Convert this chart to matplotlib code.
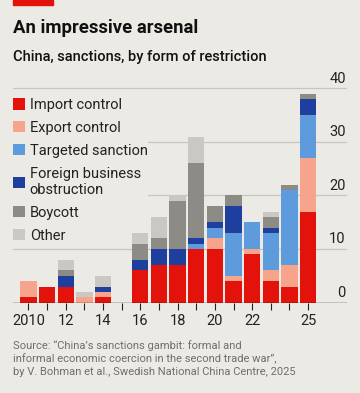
import numpy as np
import matplotlib
matplotlib.use('Agg')
import matplotlib.pyplot as plt
from matplotlib.patches import Rectangle

plt.rcParams['font.family'] = ['Roboto', 'DejaVu Sans']

BG = '#ebeae4'

years = np.arange(2010, 2026)
import_control = [1, 3, 3, 0, 1, 0, 6, 7, 7, 10, 10, 4, 9, 4, 3, 17]
export_control = [3, 0, 0, 1, 1, 0, 0, 0, 0, 0, 2, 1, 1, 2, 4, 10]
targeted_sanction = [0, 0, 0, 0, 0, 0, 0, 0, 0, 1, 2, 8, 5, 7, 14, 8]
foreign_business = [0, 0, 2, 0, 1, 0, 2, 3, 3, 1, 1, 5, 0, 1, 0, 3]
boycott = [0, 0, 1, 0, 0, 0, 3, 2, 9, 14, 3, 2, 0, 2, 1, 1]
other = [0, 0, 2, 1, 2, 0, 2, 4, 1, 5, 0, 0, 0, 1, 0, 0]

series = [
    ('Import control', import_control, '#e3120b'),
    ('Export control', export_control, '#f7a48c'),
    ('Targeted sanction', targeted_sanction, '#5d9bdc'),
    ('Foreign business\nobstruction', foreign_business, '#1f3f9e'),
    ('Boycott', boycott, '#8c8b85'),
    ('Other', other, '#c9c8c3'),
]

xtick_pos = [2010, 2012, 2014, 2016, 2018, 2020, 2022, 2025]
xtick_lab = ['2010', '12', '14', '16', '18', '20', '22', '25']
yticks = [0, 10, 20, 30, 40]

fig = plt.figure(figsize=(3.6, 3.93), dpi=100, facecolor=BG)
ax = fig.add_axes([0.036, 0.23, 0.928, 0.567], facecolor=BG)

bottom = np.zeros(len(years))
for name, vals, col in series:
    ax.bar(years, vals, bottom=bottom, width=0.88, color=col, label=name,
           zorder=3, linewidth=0)
    bottom += np.array(vals)

ax.set_xlim(2009.17, 2027.09)
ax.set_ylim(0, 41.6)

# grid + right-hand labels sitting on the lines
for v in yticks:
    if v > 0:
        ax.axhline(v, color='#c6c5bf', lw=0.9, zorder=1)
    ax.annotate(str(v), xy=(1.0, v), xycoords=ax.get_yaxis_transform(),
                xytext=(-1, 2), textcoords='offset points',
                ha='right', va='bottom', fontsize=10.5, color='#222222')
ax.axhline(0, color='#222222', lw=1.0, zorder=4)

ax.set_yticks([])
ax.set_xticks(years, minor=True)
ax.set_xticks(xtick_pos)
ax.set_xticklabels(xtick_lab, fontsize=10.5, color='#222222')
ax.tick_params(axis='x', which='both', length=5, width=0.8, color='#222222',
               direction='out', pad=3)
for s in ax.spines.values():
    s.set_visible(False)

# legend box hides the gridlines but sits under the bars
leg = ax.legend(loc='upper left', bbox_to_anchor=(0.0, 0.918), frameon=True,
                facecolor=BG, edgecolor='none', framealpha=1, fancybox=False,
                fontsize=10.5, handlelength=0.8, handleheight=0.8,
                handletextpad=0.35, labelspacing=0.61, borderpad=0.0,
                borderaxespad=0.0)
leg.set_zorder(2)
for t in leg.get_texts():
    t.set_color('#222222')

fig.patches.append(Rectangle((0.036, 0.987), 0.111, 0.013,
                             transform=fig.transFigure, color='#e3120b'))
fig.text(0.036, 0.93, 'An impressive arsenal', fontsize=13.3,
         fontweight='bold', color='#111111', va='center')
fig.text(0.036, 0.855, 'China, sanctions, by form of restriction',
         fontsize=10.5, fontweight='medium', color='#111111', va='center')
fig.text(0.036, 0.04,
         'Source: \u201cChina\u2019s sanctions gambit: formal and\n'
         'informal economic coercion in the second trade war\u201d,\n'
         'by V. Bohman et al., Swedish National China Centre, 2025',
         fontsize=8, color='#6e6e6e', va='bottom', linespacing=1.35)

fig.savefig('out.png', dpi=100, facecolor=BG)
